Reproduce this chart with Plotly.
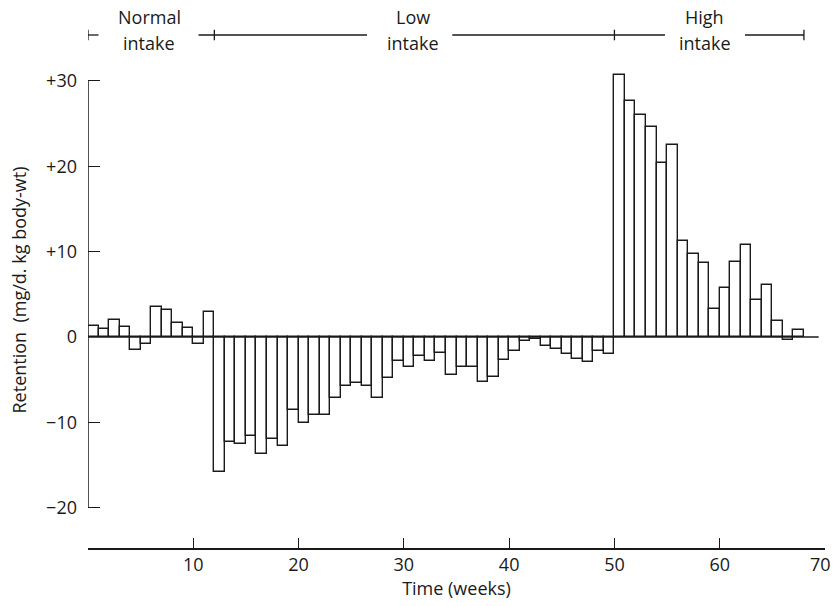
import plotly.graph_objects as go

# ---- data ----
weeks = list(range(68))  # weekly balance periods, bar i spans week i..i+1
retention = [
    # normal intake (weeks 0-11)
    1.25, 0.95, 1.95, 1.15, -1.55, -0.8, 3.5, 3.2, 1.6, 1.0, -0.8, 2.9,
    # low intake (weeks 12-49)
    -15.8, -12.35, -12.55, -11.65, -13.7, -12.0, -12.75, -8.6, -10.1, -9.2,
    -9.2, -7.2, -5.8, -5.4, -5.8, -7.2, -4.85, -2.8, -3.5, -2.25,
    -2.8, -1.9, -4.5, -3.5, -3.5, -5.25, -4.65, -2.65, -1.65, -0.45,
    -0.2, -1.1, -1.4, -2.0, -2.6, -2.9, -1.7, -2.0,
    # high intake (weeks 50-67)
    30.7, 27.7, 26.0, 24.6, 20.4, 22.5, 11.2, 9.7, 8.7, 3.3,
    5.7, 8.8, 10.8, 4.3, 6.1, 1.9, -0.4, 0.8,
]
y_tickvals = [-20, -10, 0, 10, 20, 30]
y_ticktext = ["\u221220", "\u221210", "0", "+10", "+20", "+30"]
x_tickvals = [0, 10, 20, 30, 40, 50, 60, 70]
x_ticktext = ["", "10", "20", "30", "40", "50", "60", ""]
x_last_label = "70"  # drawn separately so it stays inside the page

phase_names = [("Normal", "intake"), ("Low", "intake"), ("High", "intake")]
phase_label_x = [5.8, 30.9, 58.6]
phase_bounds = [0, 12, 50, 68]
bracket_segments = [(0, 1.0), (10.5, 26.5), (34.6, 54.8), (62.4, 68)]

FONT = "Open Sans"
INK = "#1a1a1a"
FS = 18

fig = go.Figure()
fig.add_trace(go.Bar(
    x=[w + 0.5 for w in weeks], y=retention, width=1,
    marker=dict(color="white", line=dict(color=INK, width=1.4)),
    showlegend=False,
))

shapes = []
# zero line
shapes.append(dict(type="line", xref="x", yref="y", x0=0, x1=69.4, y0=0, y1=0,
                   line=dict(color=INK, width=1.4), layer="above"))
# vertical y axis line from -20 to +30
shapes.append(dict(type="line", xref="x", yref="y", x0=0, x1=0, y0=-20, y1=30,
                   line=dict(color=INK, width=1.5), layer="above"))
# phase bracket at top
BR_Y = 1.06875
for a, b in bracket_segments:
    shapes.append(dict(type="line", xref="x", yref="paper", x0=a, x1=b, y0=BR_Y, y1=BR_Y,
                       line=dict(color=INK, width=1.3)))
for t in phase_bounds:
    shapes.append(dict(type="line", xref="x", yref="paper", x0=t, x1=t,
                       y0=BR_Y - 0.011, y1=BR_Y + 0.011, line=dict(color=INK, width=1.3)))

annotations = []
for (w1, w2), xc in zip(phase_names, phase_label_x):
    annotations.append(dict(text=w1, x=xc, xref="x", y=(548 - 17) / 480, yref="paper",
                            showarrow=False, font=dict(family=FONT, size=FS, color=INK),
                            xanchor="center", yanchor="middle"))
    annotations.append(dict(text=w2, x=xc, xref="x", y=(548 - 43) / 480, yref="paper",
                            showarrow=False, font=dict(family=FONT, size=FS, color=INK),
                            xanchor="center", yanchor="middle"))
annotations.append(dict(text="Retention  (mg/d. kg body-wt)", textangle=-90,
                        x=0, xref="paper", xshift=18 - 87.5, y=(548 - 290) / 480, yref="paper",
                        showarrow=False, font=dict(family=FONT, size=FS, color=INK),
                        xanchor="center", yanchor="middle"))
annotations.append(dict(text=x_last_label, x=70, xref="x", xshift=8, xanchor="right",
                        y=(548 - 564) / 480, yref="paper", yanchor="middle",
                        showarrow=False, font=dict(family=FONT, size=FS, color=INK)))

fig.update_layout(
    width=833, height=606,
    margin=dict(l=87.5, r=8, t=68, b=58, autoexpand=False),
    paper_bgcolor="white", plot_bgcolor="white",
    bargap=0,
    shapes=shapes, annotations=annotations,
    font=dict(family=FONT, size=FS, color=INK),
    xaxis=dict(range=[0, 70], tickvals=x_tickvals, ticktext=x_ticktext,
               ticks="inside", ticklen=10, tickwidth=1.4, tickcolor=INK,
               showline=True, linecolor=INK, linewidth=1.5, showgrid=False, zeroline=False,
               automargin=False,
               title=dict(text="Time (weeks)", font=dict(family=FONT, size=FS), standoff=4),
               tickfont=dict(family=FONT, size=FS)),
    yaxis=dict(range=[-24.73, 31.52], tickvals=y_tickvals, ticktext=y_ticktext,
               ticks="inside", ticklen=12, tickwidth=1.4, tickcolor=INK,
               showline=False, showgrid=False, zeroline=False, automargin=False,
               ticklabelstandoff=10, tickfont=dict(family=FONT, size=FS)),
)

fig.write_html("out.html")
